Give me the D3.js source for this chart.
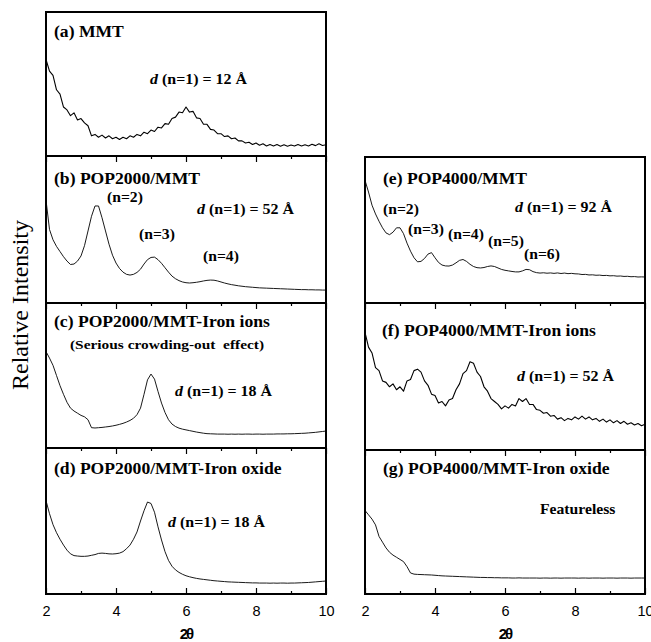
<!DOCTYPE html>
<html>
<head>
<meta charset="utf-8">
<script src="https://cdn.jsdelivr.net/npm/d3@7"></script>
<style>
  body { margin: 0; background: #fff; }
  svg { display: block; }
  .tick text { font-family: "Liberation Sans", Arial, sans-serif; font-size: 14.5px; fill: #000; }
  .tick line { stroke: #000; stroke-width: 1.2; }
</style>
</head>
<body>
<svg id="chart" width="651" height="642"></svg>
<script>
// 2-theta sampling grid, 2.0 .. 10.0 step 0.1
const twoTheta = d3.range(81).map(i => 2 + i / 10)
const majorTicks = [2, 4, 6, 8, 10]
const minorTicks = [3, 5, 7, 9]

// relative intensity (0 = panel bottom, 100 = panel top)
const mmt = [67,59,56,46,43,34,32,28,30,25, 26,23,21,14,15,13,14.5,12.5,14,12,
  13,11.5,13,12,14,13,15,14,16.5,15.5, 18,17,20,19.5,22.5,22,26,27,30.5,30,
  34,30.5,31,26.5,26,22,22,18.5,18,15.5, 15.5,13.5,14,12,12.5,10.5,10.5,9,9.5,8,
  9,7.5,8.5,7,8,7,8,6.8,7.8,6.8, 7.6,6.9,8,7,7.8,7,8.2,7.2,8.5,7.3, 7.8]
const pop2000 = [70,50,43,38.5,35,31.5,28.5,26.2,26.5,28.5, 32,39,49,59,66,66,58,49,40,32.5,
  27.2,23.5,21,19.5,19,19.5,20.8,23,26.5,29.5, 31,31.2,29.5,27,24,21,18.3,16.5,15.2,14.3,
  13.8,13.6,13.8,14.1,14.5,15,15.4,15.6,15.5,15, 14.3,13.6,13,12.5,12.1,11.7,11.4,11.1,10.9,10.7,
  10.5,10.3,10.2,10.1,10,9.9,9.8,9.7,9.6,9.5, 9.4,9.3,9.2,9.1,9.1,9,9,8.9,8.9,8.8, 8.8]
const pop2000Ions = [66.5,62,57,50,43,37,31.5,27.5,25.5,24, 22.5,21.5,19.5,14,13.8,14,14.2,14.5,14.8,15.2,
  15.7,16.3,17,17.9,19,20.5,23,27.5,37,47, 51,47.5,39,31,24.5,19.5,16.5,14.8,13.7,13,
  12.5,12,11.5,11,10.6,10.2,9.9,9.8,9.7,9.6, 9.6,9.6,9.5,9.6,9.5,9.6,9.5,9.6,9.6,9.5,
  9.6,9.6,9.5,9.6,9.6,9.6,9.7,9.7,9.7,9.8, 9.8,9.9,10,10.1,10.2,10.4,10.6,10.8,11.1,11.4, 11.7]
const pop2000Oxide = [64,55,47.5,42,37.5,33.5,30,27.5,26.3,26, 25.8,25.8,26,26.5,27,27.8,28,27.8,27.5,27.4,
  27.6,28,29,31,33.5,37.5,42.5,50,57,63, 62,56,46,37,29,23,19,16.5,14.8,13.5,
  12.5,11.8,11.2,10.7,10.3,10,9.7,9.4,9.1,8.9, 8.7,8.5,8.3,8.2,8.1,8,7.9,7.8,7.7,7.6,
  7.6,7.5,7.5,7.5,7.4,7.5,7.4,7.5,7.5,7.4, 7.5,7.5,7.6,7.7,7.8,7.9,8.1,8.3,8.5,8.7, 8.9]
const pop4000 = [84,76,67,61,56,51.5,48,46.8,48.5,51.5, 51.5,47.5,41,35.5,31,28.2,28.5,30.5,33.5,34.5,
  31,27.8,26,25.4,25.3,26,27.5,29.2,29.8,28.5, 26.5,25,24.2,24,24.3,25,25.4,25,24,23,
  22.4,22,21.6,21.3,21.3,22,23,22.8,21.5,20.8, 20.5,20.7,20.4,20.6,20.3,20.6,20.2,20.5,20.1,20.3,
  20,19.9,19.5,19.6,19.2,19.3,19,19.1,18.8,18.9, 18.6,18.7,18.4,18.5,18.2,18.3,18,18.1,17.8,17.9, 17.8]
const pop4000Ions = [80,70,66,56,54,47,46,43,45,41, 43,40,47,48,54,55,53,47,44,38,
  37,32,33,30,34,35,41,45,52,54, 60,59,53,50,43,40,35,33,31,28,
  30,28.5,31,30,35,33,35,31,31,27.5, 27,25,25.5,23,23.5,21,22,20,21.5,20.5,
  22.5,21,23,21,22.5,20.5,21.5,19.5,21,19, 20.5,18.5,20,18,19.5,17.5,18.5,17,18,16.5, 17.5]
const pop4000Oxide = [58,55,52,48,40,36,32,29,27,25.5, 24,22.5,19,14.6,13.8,13.6,13.5,13.4,13.3,13.2,
  13,12.8,12.6,12.5,12.4,12.3,12.2,12.1,12,11.9, 11.8,11.7,11.6,11.5,11.5,11.4,11.4,11.3,11.3,11.2,
  11.2,11.2,11.1,11.1,11.2,11.1,11.1,11.1,11.1,11.1, 11,11.1,11.1,11,11.1,11.1,11,11.1,11.1,11.1,
  11.1,11,11.1,11.1,11,11.1,11.1,11.1,11,11.1, 11.1,11.1,11,11.1,11.1,11.1,11,11.1,11.1,11.1, 11.1]

const titles = ["(a) MMT", "(b) POP2000/MMT", "(c) POP2000/MMT-Iron ions", "(d) POP2000/MMT-Iron oxide",
  "(e) POP4000/MMT", "(f) POP4000/MMT-Iron ions", "(g) POP4000/MMT-Iron oxide"]
const spacings = ["12", "52", "18", "18", "92", "52", null]

const svg = d3.select("#chart")

const columns = {
  left:  { x0: 46, x1: 326 },
  right: { x0: 365, x1: 645 }
}

const panels = [
  { col: "left",  top: 12,  bottom: 156, data: mmt,          noisy: true },
  { col: "left",  top: 156, bottom: 303, data: pop2000 },
  { col: "left",  top: 303, bottom: 448, data: pop2000Ions },
  { col: "left",  top: 448, bottom: 594, data: pop2000Oxide, last: true },
  { col: "right", top: 157, bottom: 303, data: pop4000 },
  { col: "right", top: 303, bottom: 450, data: pop4000Ions,  noisy: true },
  { col: "right", top: 450, bottom: 594, data: pop4000Oxide, last: true }
]

// text placement for each panel (title, d-spacing note)
const textPos = [
  { t: [54, 37],  d: [150, 84] },
  { t: [54, 184], d: [197, 214] },
  { t: [54, 327], d: [175, 396] },
  { t: [54, 474], d: [168, 527] },
  { t: [383, 184], d: [515, 212] },
  { t: [382, 336], d: [517, 381] },
  { t: [383, 474] }
]

const serif = '"Liberation Serif", "Times New Roman", serif'

function label(x, y, size, sx) {
  return svg.append("text")
    .attr("transform", `translate(${x},${y}) scale(${sx},1)`)
    .attr("font-family", serif)
    .attr("font-weight", "bold")
    .attr("font-size", size)
    .attr("fill", "#000")
}

function dNote(x, y, value) {
  let t = label(x, y, 14, 1.14)
  t.append("tspan").attr("font-style", "italic").text("d")
  t.append("tspan").text(` (n=1) = ${value} Å`)
}

panels.forEach((p, i) => {
  let c = columns[p.col]
  let x = d3.scaleLinear().domain([2, 10]).range([c.x0, c.x1])
  let y = d3.scaleLinear().domain([0, 100]).range([p.bottom, p.top])

  // ticks on the top edge, pointing into the panel
  if (p.top !== 12 && p.top !== 157) {
    svg.append("g").attr("transform", `translate(0,${p.top})`)
      .call(d3.axisBottom(x).tickValues(majorTicks).tickSize(6).tickFormat(""))
      .call(g => g.select(".domain").remove())
    svg.append("g").attr("transform", `translate(0,${p.top})`)
      .call(d3.axisBottom(x).tickValues(minorTicks).tickSize(3).tickFormat(""))
      .call(g => g.select(".domain").remove())
  }

  if (p.last) {
    svg.append("g").attr("transform", `translate(0,${p.bottom})`)
      .call(d3.axisBottom(x).tickValues(majorTicks).tickSizeInner(-6).tickSizeOuter(0).tickPadding(12))
      .call(g => g.select(".domain").remove())
    svg.append("g").attr("transform", `translate(0,${p.bottom})`)
      .call(d3.axisBottom(x).tickValues(minorTicks).tickSizeInner(-3).tickSizeOuter(0).tickFormat(""))
      .call(g => g.select(".domain").remove())

    svg.append("text")
      .attr("x", (c.x0 + c.x1) / 2).attr("y", 639)
      .attr("text-anchor", "middle")
      .attr("font-family", '"Liberation Sans", Arial, sans-serif')
      .attr("font-weight", "bold").attr("font-size", 15)
      .attr("letter-spacing", -2)
      .text("2θ")
  }

  const line = d3.line()
    .x((d, k) => x(twoTheta[k]))
    .y(d => y(d))

  svg.append("path")
    .datum(p.data)
    .attr("d", line)
    .attr("fill", "none")
    .attr("stroke", "#000")
    .attr("stroke-width", p.noisy ? 1.1 : 0.9)
    .attr("stroke-linejoin", "round")

  svg.append("rect")
    .attr("x", c.x0).attr("y", p.top)
    .attr("width", c.x1 - c.x0).attr("height", p.bottom - p.top)
    .attr("fill", "none").attr("stroke", "#000").attr("stroke-width", 2)

  let tp = textPos[i]
  label(tp.t[0], tp.t[1], 16, 1.1).text(titles[i])
  if (spacings[i]) dNote(tp.d[0], tp.d[1], spacings[i])
})

// order labels
const orderLabels = ["(n=2)", "(n=3)", "(n=4)", "(n=2)", "(n=3)", "(n=4)", "(n=5)", "(n=6)"]
const orderPos = [[107, 202], [139, 239], [203, 261], [383, 214], [408, 234], [448, 239], [488, 246], [524, 259]]
orderLabels.forEach((s, k) => label(orderPos[k][0], orderPos[k][1], 14, 1.12).text(s))

label(70, 349, 13.5, 1.14).text("(Serious crowding-out  effect)").attr("xml:space", "preserve")
label(540, 514, 14, 1.12).text("Featureless")

svg.append("text")
  .attr("transform", "translate(28,305) rotate(-90)")
  .attr("text-anchor", "middle")
  .attr("font-family", serif)
  .attr("font-size", 24)
  .attr("fill", "#000")
  .text("Relative Intensity")
</script>
</body>
</html>
